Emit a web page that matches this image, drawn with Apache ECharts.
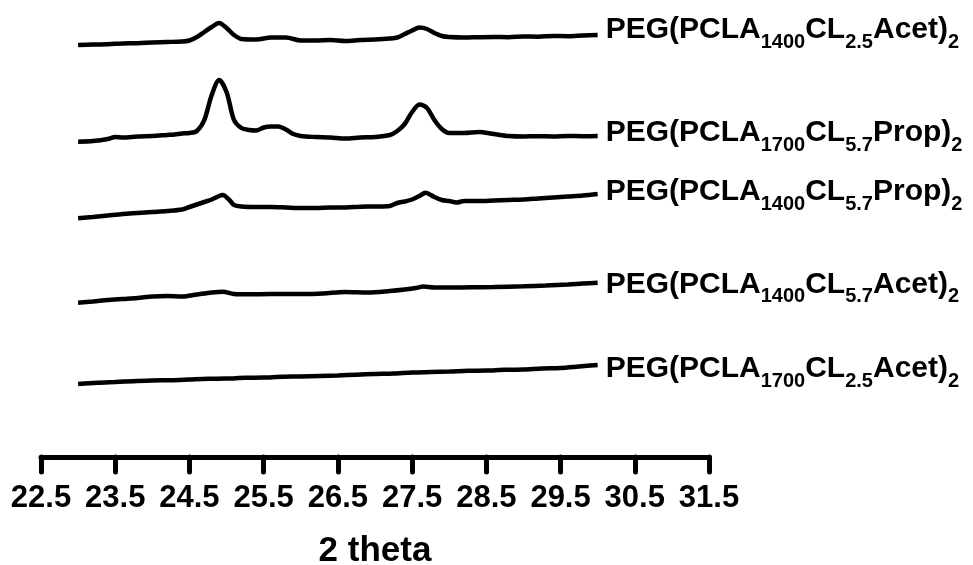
<!DOCTYPE html>
<html>
<head>
<meta charset="utf-8">
<script src="https://cdn.jsdelivr.net/npm/echarts@6/dist/echarts.min.js"></script>
<style>
  html, body { margin: 0; padding: 0; background: #fff; }
  #chart { width: 973px; height: 565px; }
</style>
</head>
<body>
<div id="chart"></div>
<script>
// 2 theta ticks
var thetaMin = 22.5;
var thetaMax = 31.5;

// sample names, split into [text, subscript] parts
var names = [
  [["PEG(PCLA", "1400"], ["CL", "2.5"], ["Acet)", "2"]],
  [["PEG(PCLA", "1700"], ["CL", "5.7"], ["Prop)", "2"]],
  [["PEG(PCLA", "1400"], ["CL", "5.7"], ["Prop)", "2"]],
  [["PEG(PCLA", "1400"], ["CL", "5.7"], ["Acet)", "2"]],
  [["PEG(PCLA", "1700"], ["CL", "2.5"], ["Acet)", "2"]]
];

// patterns (stacked intensity, a.u.): [2theta, intensity]
var pegA1400CL25 = [
  [23.0, 412], [23.2, 412.5], [23.4, 412.8], [23.6, 413.5], [23.8, 413.8], [24.0, 414.5],
  [24.2, 415], [24.4, 415.5], [24.5, 416.5], [24.6, 420], [24.7, 425], [24.8, 430],
  [24.9, 434], [25.0, 429], [25.1, 422], [25.2, 418], [25.4, 417.5], [25.6, 419.5],
  [25.8, 419.5], [26.0, 416.5], [26.2, 416.5], [26.4, 417], [26.6, 416], [26.8, 417],
  [27.0, 417.5], [27.2, 418.5], [27.3, 419.5], [27.4, 423], [27.5, 426.5], [27.6, 429.5],
  [27.7, 428], [27.8, 424], [27.9, 421], [28.0, 420], [28.2, 419.5], [28.4, 419.8],
  [28.6, 420], [28.8, 419.8], [29.0, 420.5], [29.2, 420.3], [29.4, 421], [29.6, 420.8],
  [29.8, 421.5], [30.0, 422]
];
var pegP1700CL57 = [
  [23.0, 315.3], [23.2, 316], [23.4, 318], [23.5, 320], [23.6, 319.5], [23.8, 320.5],
  [24.0, 321], [24.2, 322], [24.3, 322.5], [24.4, 323.5], [24.5, 324], [24.6, 326],
  [24.7, 337], [24.8, 362], [24.9, 377], [25.0, 365], [25.1, 337], [25.2, 329],
  [25.3, 327], [25.4, 326.5], [25.5, 329.5], [25.6, 330.5], [25.7, 330.5], [25.8, 327.5],
  [25.9, 323], [26.0, 321], [26.2, 320], [26.4, 319.5], [26.6, 318.5], [26.8, 319.5],
  [27.0, 320], [27.2, 322], [27.3, 326], [27.4, 333], [27.5, 345], [27.6, 352.5],
  [27.7, 349], [27.8, 337], [27.9, 328], [28.0, 324], [28.2, 324], [28.4, 325],
  [28.6, 323], [28.8, 321], [29.0, 320.5], [29.2, 320.8], [29.4, 320.5], [29.6, 321],
  [29.8, 320.8], [30.0, 321]
];
var pegP1400CL57 = [
  [23.0, 238.7], [23.2, 240], [23.4, 241.5], [23.6, 243], [23.8, 244], [24.0, 245],
  [24.2, 246], [24.4, 247.5], [24.5, 250], [24.6, 252.5], [24.7, 255], [24.8, 257.5],
  [24.9, 261], [24.95, 262], [25.05, 256], [25.1, 252], [25.2, 250.5], [25.4, 250],
  [25.6, 250], [25.8, 249.5], [26.0, 249], [26.2, 249], [26.4, 249.5], [26.6, 249.5],
  [26.8, 250.3], [27.0, 250.5], [27.2, 251], [27.3, 254], [27.4, 255.5], [27.5, 257.5],
  [27.6, 261], [27.68, 264.3], [27.8, 260], [27.9, 257], [28.0, 256], [28.1, 254.5],
  [28.2, 256], [28.4, 256], [28.6, 256.5], [28.8, 257], [29.0, 257.5], [29.2, 258.5],
  [29.4, 259.5], [29.6, 260.5], [29.8, 261.5], [30.0, 263]
];
var pegA1400CL57 = [
  [23.0, 154.3], [23.2, 155.5], [23.4, 157], [23.6, 158], [23.8, 159], [24.0, 160.5],
  [24.2, 161], [24.4, 160.5], [24.6, 162.5], [24.8, 164.5], [24.95, 165.3], [25.1, 163],
  [25.3, 162.7], [25.6, 163], [26.0, 163], [26.3, 163.5], [26.6, 165], [26.9, 164.5],
  [27.2, 166], [27.4, 167.5], [27.55, 169], [27.65, 170.5], [27.8, 169.5], [28.0, 169.5],
  [28.3, 169.7], [28.6, 170], [29.0, 170.7], [29.3, 171.5], [29.6, 172.5], [29.8, 173.5],
  [30.0, 174.3]
];
var pegA1700CL25 = [
  [23.0, 73], [23.25, 74.2], [23.5, 75], [23.75, 75.8], [24.0, 76.5], [24.25, 76.8],
  [24.5, 77.5], [24.75, 78.2], [25.0, 78.5], [25.25, 79.2], [25.5, 79.5], [25.75, 80.2],
  [26.0, 80.5], [26.25, 81], [26.5, 81.5], [26.75, 82.3], [27.0, 83], [27.25, 83.5],
  [27.5, 84.5], [27.75, 85], [28.0, 85.5], [28.25, 86.2], [28.5, 86.5], [28.75, 87.2],
  [29.0, 87.5], [29.25, 88.5], [29.5, 89], [29.75, 90.5], [30.0, 92]
];

var patterns = [pegA1400CL25, pegP1700CL57, pegP1400CL57, pegA1400CL57, pegA1700CL25];

var fontFamily = "'Liberation Sans', Arial, sans-serif";
var labelOffsets = [[0, -5], [0, -3], [0, -2], [0, 2], [0, 4]];

function richName(parts) {
  return parts.map(function (p) {
    return "{m|" + p[0] + "}{s|" + p[1] + "}";
  }).join("");
}

var myChart = echarts.init(document.getElementById("chart"));

var series = patterns.map(function (data, i) {
  return {
    name: names[i].map(function (p) { return p[0] + p[1]; }).join(""),
    type: "line",
    data: data,
    smooth: 0.3,
    showSymbol: false,
    symbol: "none",
    lineStyle: { color: "#000", width: 4.5 },
    endLabel: {
      show: true,
      distance: 8,
      offset: labelOffsets[i],
      formatter: richName(names[i]),
      rich: {
        m: {
          fontFamily: fontFamily,
          fontWeight: "bold",
          fontSize: 30,
          lineHeight: 44,
          color: "#000"
        },
        s: {
          fontFamily: fontFamily,
          fontWeight: "bold",
          fontSize: 20,
          lineHeight: 20,
          verticalAlign: "bottom",
          color: "#000"
        }
      }
    }
  };
});

myChart.setOption({
  animation: false,
  backgroundColor: "#fff",
  grid: {
    left: 41,
    right: 264,
    top: 0,
    bottom: 108,
    outerBoundsMode: "none"
  },
  xAxis: {
    type: "value",
    min: thetaMin,
    max: thetaMax,
    interval: 1,
    name: "2 theta",
    nameLocation: "middle",
    nameGap: 77,
    nameTextStyle: {
      fontFamily: fontFamily,
      fontWeight: "bold",
      fontSize: 35,
      color: "#000"
    },
    axisLine: {
      lineStyle: { color: "#000", width: 5, cap: "round" }
    },
    axisTick: {
      length: 15,
      lineStyle: { color: "#000", width: 5, cap: "round" }
    },
    axisLabel: {
      margin: 26,
      fontFamily: fontFamily,
      fontWeight: "bold",
      fontSize: 31,
      color: "#000",
      formatter: function (v) { return v.toFixed(1); }
    },
    splitLine: { show: false }
  },
  yAxis: {
    type: "value",
    min: 0,
    max: 457,
    show: false
  },
  series: series
});
</script>
</body>
</html>
